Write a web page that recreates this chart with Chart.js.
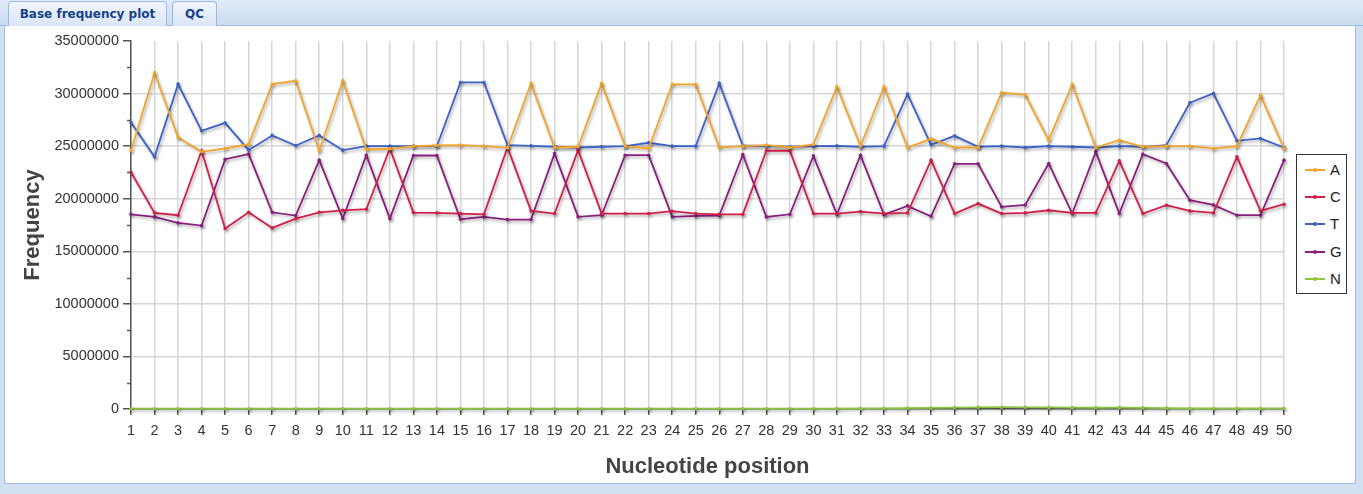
<!DOCTYPE html>
<html>
<head>
<meta charset="utf-8">
<script src="https://cdn.jsdelivr.net/npm/chart.js@4.4.0/dist/chart.umd.min.js"></script>
<style>
  body { margin:0; width:1363px; height:494px; background:#d2dff1; position:relative; overflow:hidden; font-family:"Liberation Sans", Arial, sans-serif; }
  .topbar { position:absolute; left:0; top:0; width:1363px; height:25px; background:linear-gradient(#e1eaf8,#cddcf2); border-bottom:1px solid #99bbe8; }
  .tab { position:absolute; top:1px; height:24px; border:1px solid #99bbe8; border-bottom:none; border-radius:4px 4px 0 0;
         background:linear-gradient(#f0f5fc,#dae6f7); font:bold 12px "DejaVu Sans", Verdana, sans-serif; color:#15428b; line-height:24px; text-align:center; }
  .panel { position:absolute; left:4px; top:26px; width:1350px; height:457px; background:#fff; border:1px solid #99bbe8; border-top:none; }
  #chart { position:absolute; left:0; top:0; }
  #legend { position:absolute; left:1296px; top:154px; width:49px; height:138px; border:1px solid #333; background:#fff; }
  .item { position:absolute; left:0; width:49px; height:20px; }
  .item .ln { position:absolute; left:8px; top:9px; width:20px; height:2px; }
  .item .dot { position:absolute; left:16px; top:8px; width:4px; height:4px; border-radius:2px; }
  .item .lb { position:absolute; left:33px; top:1px; font-size:15px; line-height:18px; color:#222; }
</style>
</head>
<body>
<div class="topbar"></div>
<div class="tab" style="left:8px;width:157px;">Base frequency plot</div>
<div class="tab" style="left:172px;width:43px;">QC</div>
<div class="panel"></div>
<canvas id="chart" width="1363" height="494"></canvas>
<div id="legend"></div>
<script>
  // positions along the read
  const posicoes = ['1','2','3','4','5','6','7','8','9','10','11','12','13','14','15','16','17','18','19','20',
    '21','22','23','24','25','26','27','28','29','30','31','32','33','34','35','36','37','38','39','40',
    '41','42','43','44','45','46','47','48','49','50'];

  const baseA = [24560000,31980000,25830000,24460000,24780000,25190000,30900000,31220000,24560000,31220000,
    24680000,24750000,25000000,25060000,25100000,25000000,24840000,30970000,24870000,24940000,
    30970000,25000000,24780000,30870000,30870000,24870000,25000000,25100000,24870000,25160000,
    30650000,25000000,30650000,24870000,25700000,24870000,24870000,30080000,29890000,25570000,
    30870000,24870000,25570000,24940000,25000000,25000000,24780000,25000000,29830000,24780000];

  const baseC = [22520000,18650000,18430000,24560000,17160000,18710000,17220000,18110000,18710000,18900000,
    19000000,24780000,18680000,18650000,18590000,18520000,24870000,18840000,18590000,24620000,
    18590000,18590000,18590000,18810000,18590000,18520000,18520000,24560000,24560000,18590000,
    18590000,18780000,18590000,18650000,23670000,18590000,19540000,18590000,18650000,18900000,
    18650000,18650000,23600000,18590000,19380000,18840000,18650000,23980000,18840000,19480000];

  const baseT = [27250000,23980000,30900000,26460000,27220000,24620000,26020000,25060000,26020000,24620000,
    25000000,25000000,25000000,25000000,31060000,31060000,25100000,25030000,24940000,24870000,
    24940000,25000000,25320000,25000000,25000000,30970000,25060000,25000000,24940000,25000000,
    25030000,24940000,25000000,29950000,25130000,25980000,24940000,25000000,24870000,25000000,
    24940000,24870000,25000000,24940000,25100000,29130000,30020000,25510000,25730000,24870000];

  const baseG = [18520000,18270000,17700000,17440000,23760000,24240000,18710000,18400000,23670000,18110000,
    24140000,18110000,24110000,24110000,18050000,18270000,18020000,18020000,24300000,18270000,
    18430000,24140000,24140000,18270000,18370000,18400000,24210000,18270000,18520000,24080000,
    18520000,24140000,18490000,19320000,18330000,23320000,23320000,19220000,19410000,23350000,
    18590000,24460000,18590000,24240000,23350000,19860000,19410000,18430000,18430000,23670000];

  const baseN = [30000,30000,30000,30000,30000,30000,30000,30000,30000,30000,
    30000,30000,30000,30000,30000,30000,30000,30000,30000,30000,
    30000,30000,30000,30000,30000,30000,30000,30000,30000,30000,
    40000,50000,60000,80000,100000,140000,160000,170000,160000,150000,
    130000,120000,130000,110000,80000,50000,50000,50000,50000,50000];

  const ticksY = [0,5000000,10000000,15000000,20000000,25000000,30000000,35000000];

  const nomes = ['A','C','T','G','N'];
  const cores = ['#f2a52a','#d31f48','#3e63c6','#8a1f80','#8cc43e'];
  const series = [baseA, baseC, baseT, baseG, baseN];

  const fonte = '"Liberation Sans", Arial, sans-serif';

  // legend (html)
  const leg = document.getElementById('legend');
  nomes.forEach((n, i) => {
    const d = document.createElement('div');
    d.className = 'item';
    d.style.top = (5 + i * 27.2) + 'px';
    d.innerHTML = `<span class="ln" style="background:${cores[i]}"></span><span class="dot" style="background:${cores[i]}"></span><span class="lb">${n}</span>`;
    leg.appendChild(d);
  });

  // sombra nas linhas + ticks menores no eixo y
  const extras = {
    id: 'extras',
    beforeDatasetsDraw(chart) {
      const c = chart.ctx;
      c.save();
      c.shadowColor = 'rgba(0,0,0,0.32)';
      c.shadowBlur = 3;
      c.shadowOffsetX = 1.5;
      c.shadowOffsetY = 2;
    },
    afterDatasetsDraw(chart) {
      chart.ctx.restore();
    },
    afterDraw(chart) {
      const c = chart.ctx, y = chart.scales.y, x0 = y.right;
      c.save();
      c.strokeStyle = '#555';
      c.lineWidth = 1.5;
      for (let i = 0; i < ticksY.length - 1; i++) {
        const py = Math.round(y.getPixelForValue((ticksY[i] + ticksY[i + 1]) / 2)) + 0.5;
        c.beginPath();
        c.moveTo(x0 - 4, py);
        c.lineTo(x0, py);
        c.stroke();
      }
      c.restore();
    }
  };

  new Chart(document.getElementById('chart'), {
    type: 'line',
    data: {
      labels: posicoes,
      datasets: series.map((s, i) => ({
        label: nomes[i],
        data: s,
        borderColor: cores[i],
        backgroundColor: cores[i],
        borderWidth: 1.8,
        pointRadius: 1.8,
        pointBorderWidth: 0,
        tension: 0,
        clip: false
      }))
    },
    options: {
      responsive: false,
      animation: false,
      layout: { padding: { top: 41, right: 79, left: 0, bottom: 0 } },
      plugins: { legend: { display: false }, tooltip: { enabled: false } },
      scales: {
        x: {
          type: 'category',
          offset: false,
          grid: { color: '#d6d6d6', lineWidth: 1.5, tickLength: 6, tickColor: '#555', tickWidth: 1.5 },
          border: { color: '#555', width: 1.5 },
          ticks: { font: { family: fonte, size: 14.5 }, color: '#333', padding: 7, maxRotation: 0, autoSkip: false },
          title: { display: true, text: 'Nucleotide position', color: '#444',
                   font: { family: fonte, size: 22, weight: 'bold', lineHeight: 1 }, padding: { top: 0, bottom: 16 } },
          afterFit(s) { s.height = 85; }
        },
        y: {
          min: 0,
          max: 35000000,
          afterBuildTicks(s) { s.ticks = ticksY.map(v => ({ value: v })); },
          grid: {
            color: ctx => (ctx.tick && ctx.tick.value > 0 && ctx.tick.value < 35000000) ? '#d6d6d6' : 'rgba(0,0,0,0)',
            lineWidth: 1.5, tickLength: 8, tickColor: '#555', tickWidth: 1.5
          },
          border: { color: '#555', width: 1.5 },
          ticks: { font: { family: fonte, size: 14.5 }, color: '#333', padding: 4, callback: v => String(v) },
          title: { display: true, text: 'Frequency', color: '#444',
                   font: { family: fonte, size: 22, weight: 'bold', lineHeight: 1 }, padding: { top: 22, bottom: 0 } },
          afterFit(s) { s.width = 131; }
        }
      }
    },
    plugins: [extras]
  });
</script>
</body>
</html>
